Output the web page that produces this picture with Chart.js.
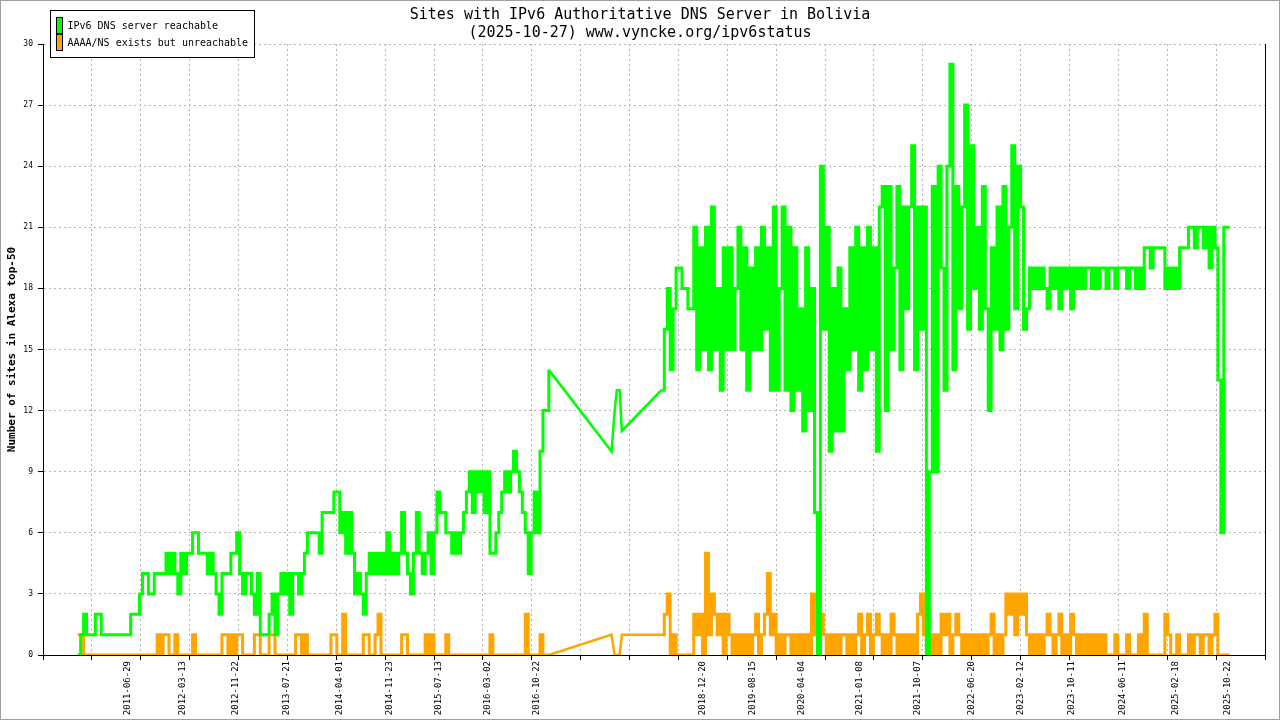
<!DOCTYPE html>
<html>
<head>
<meta charset="utf-8">
<title>Sites with IPv6 Authoritative DNS Server in Bolivia</title>
<script src="https://cdn.jsdelivr.net/npm/chart.js"></script>
<style>
    html, body { margin: 0; padding: 0; background: #fff; }
    canvas { display: block; }
</style>
</head>
<body>
<canvas id="dnsChart" width="1280" height="720"></canvas>
<script>
// Werte, ein Wert alle 14 Tage
const STEP_DAYS = 14;

const titleLines = ['Sites with IPv6 Authoritative DNS Server in Bolivia', '(2025-10-27) www.vyncke.org/ipv6status'];
const yTitle = 'Number of sites in Alexa top-50';
const seriesNames = ['IPv6 DNS server reachable', 'AAAA/NS exists but unreachable'];

const tickLabels = ['2011-06-29', '2012-03-13', '2012-11-22', '2013-07-21', '2014-04-01', '2014-11-23',
    '2015-07-13', '2016-03-02', '2016-10-22', '2018-12-20', '2019-08-15', '2020-04-04', '2021-01-08',
    '2021-10-07', '2022-06-20', '2023-02-12', '2023-10-11', '2024-06-11', '2025-02-18', '2025-10-22'];

const axisStart = '2010-05-21';
const axisEnd = '2026-04-17';

// erster Abschnitt (2010-11 bis 2016-12)
const earlyStart = '2010-11-02';
const greenEarly = [
    0, 1, 2, 1, 1, 1, 2, 2, 1, 1,
    1, 1, 1, 1, 1, 1, 1, 1, 2, 2,
    2, 3, 4, 4, 3, 3, 4, 4, 4, 4,
    5, 4, 5, 4, 3, 5, 4, 5, 5, 6,
    6, 5, 5, 5, 4, 5, 4, 3, 2, 4,
    4, 4, 5, 5, 6, 4, 3, 4, 4, 3,
    2, 4, 1, 1, 1, 2, 3, 1, 3, 4,
    3, 4, 2, 4, 4, 3, 4, 5, 6, 6,
    6, 6, 5, 7, 7, 7, 7, 8, 8, 6,
    7, 5, 7, 5, 3, 4, 3, 2, 4, 5,
    4, 5, 4, 5, 4, 6, 4, 5, 4, 5,
    7, 5, 4, 3, 5, 7, 5, 4, 5, 6,
    4, 6, 8, 7, 7, 6, 6, 5, 6, 5,
    6, 7, 8, 9, 7, 9, 8, 9, 7, 9,
    5, 5, 6, 7, 8, 9, 8, 9, 10, 9,
    8, 7, 6, 4, 6, 8, 6, 10, 12, 12,
    14
];
const orangeEarly = [
    1, 1, 0, 0, 0, 0, 0, 0, 0, 0,
    0, 0, 0, 0, 0, 0, 0, 0, 0, 0,
    0, 0, 0, 0, 0, 0, 0, 1, 0, 1,
    1, 0, 0, 1, 0, 0, 0, 0, 0, 1,
    0, 0, 0, 0, 0, 0, 0, 0, 0, 1,
    1, 0, 1, 0, 1, 1, 0, 0, 0, 0,
    1, 1, 0, 0, 0, 1, 1, 0, 0, 0,
    0, 0, 0, 0, 1, 1, 0, 1, 0, 0,
    0, 0, 0, 0, 0, 0, 1, 1, 0, 0,
    2, 0, 0, 0, 0, 0, 0, 1, 1, 0,
    0, 1, 2, 0, 0, 0, 0, 0, 0, 0,
    1, 1, 0, 0, 0, 0, 0, 0, 1, 0,
    1, 0, 0, 0, 0, 1, 0, 0, 0, 0,
    0, 0, 0, 0, 0, 0, 0, 0, 0, 0,
    1, 0, 0, 0, 0, 0, 0, 0, 0, 0,
    0, 0, 2, 0, 0, 0, 0, 1, 0, 0,
    0
];

// wenige Messungen in der Lücke 2017
const gapDates = ['2017-10-14', '2017-10-29', '2017-11-08', '2017-11-22', '2017-12-02'];
const gapGreen = [10, 12, 13, 13, 11];
const gapOrange = [1, 0, 0, 0, 1];

// zweiter Abschnitt (2018-06 bis 2025-10)
const lateStart = '2018-06-08';
const greenLate = [
    13, 16, 18, 14, 17, 19, 19, 18, 18, 17,
    17, 21, 14, 20, 15, 21, 14, 22, 15, 18,
    13, 20, 15, 20, 15, 18, 21, 15, 20, 13,
    19, 15, 20, 15, 21, 16, 20, 13, 22, 13,
    18, 22, 13, 21, 12, 20, 13, 17, 11, 20,
    12, 18, 7, 0, 24, 16, 21, 10, 18, 11,
    19, 11, 17, 14, 20, 15, 21, 13, 20, 14,
    21, 15, 20, 10, 22, 23, 12, 23, 15, 19,
    23, 14, 22, 17, 22, 25, 14, 22, 16, 22,
    0, 9, 23, 9, 24, 19, 13, 24, 29, 14,
    23, 17, 22, 27, 16, 25, 18, 21, 16, 23,
    17, 12, 20, 16, 22, 15, 23, 16, 21, 25,
    17, 24, 22, 16, 17, 19, 18, 19, 18, 19,
    18, 17, 19, 18, 19, 17, 19, 18, 19, 17,
    19, 18, 19, 18, 19, 19, 18, 19, 18, 19,
    19, 18, 19, 19, 18, 19, 19, 19, 18, 19,
    19, 18, 19, 18, 20, 20, 19, 20, 20, 20,
    20, 18, 19, 18, 19, 18, 20, 20, 20, 21,
    21, 20, 21, 21, 20, 21, 19, 21, 20, 13.5,
    6, 21, 21, 21
];
const orangeLate = [
    1, 2, 3, 0, 1, 0, 0, 0, 0, 0,
    0, 2, 1, 2, 0, 5, 1, 3, 2, 1,
    2, 0, 2, 1, 0, 1, 0, 1, 0, 1,
    0, 1, 2, 0, 1, 2, 4, 1, 2, 0,
    1, 0, 1, 1, 0, 1, 0, 1, 0, 1,
    0, 3, 1, 0, 2, 1, 0, 1, 0, 1,
    0, 1, 1, 0, 1, 0, 1, 2, 0, 1,
    2, 0, 1, 2, 1, 0, 1, 0, 2, 1,
    0, 1, 0, 1, 0, 1, 0, 2, 3, 1,
    0, 1, 0, 1, 0, 2, 1, 2, 0, 1,
    2, 1, 0, 1, 0, 1, 0, 1, 0, 1,
    0, 1, 2, 0, 1, 0, 1, 3, 2, 3,
    1, 3, 2, 3, 1, 0, 1, 0, 1, 0,
    1, 2, 1, 0, 1, 2, 0, 1, 0, 2,
    1, 0, 1, 0, 1, 0, 1, 0, 1, 0,
    1, 0, 0, 0, 1, 0, 0, 0, 1, 0,
    0, 0, 1, 0, 2, 0, 0, 0, 0, 0,
    0, 2, 1, 0, 0, 1, 0, 0, 0, 1,
    0, 1, 1, 0, 1, 1, 0, 1, 2, 0,
    0, 0, 0, 0
];

const GREEN = '#00ff00';
const ORANGE = '#ffa500';
const MONO = '"DejaVu Sans Mono", "Liberation Mono", monospace';

function dayNum(dateStr) {
    return Date.parse(dateStr + 'T00:00:00Z') / 86400000;
}

function seriesPoints(startDate, values) {
    const d0 = dayNum(startDate);
    return values.map((v, i) => ({ x: d0 + i * STEP_DAYS, y: v }));
}

function buildSeries(early, late) {
    // null-Punkt trennt die beiden Abschnitte
    return seriesPoints(earlyStart, early)
        .concat([{ x: dayNum(gapDates[0]), y: null }])
        .concat(seriesPoints(lateStart, late));
}

function buildGap(early, gap, late) {
    const first = seriesPoints(earlyStart, early);
    const gapPts = gapDates.map((d, i) => ({ x: dayNum(d), y: gap[i] }));
    return [first[first.length - 1]].concat(gapPts, [seriesPoints(lateStart, late)[0]]);
}

const xMin = dayNum(axisStart);
const xMax = dayNum(axisEnd);
const GRID_STEPS = 25;

const framePlugin = {
    id: 'frame',
    beforeDraw(chart) {
        const ctx = chart.ctx;
        ctx.save();
        ctx.fillStyle = '#fff';
        ctx.fillRect(0, 0, chart.width, chart.height);
        ctx.restore();
    },
    afterDraw(chart) {
        const ctx = chart.ctx;
        ctx.save();
        ctx.strokeStyle = '#a0a0a0';
        ctx.lineWidth = 1;
        ctx.strokeRect(0.5, 0.5, chart.width - 1, chart.height - 1);

        // Legende oben links im Plot
        const items = chart.data.datasets.filter(ds => ds.inLegend);
        const left = chart.chartArea.left + 7.5;
        const top = 10.5;
        ctx.fillStyle = '#fff';
        ctx.fillRect(left, top, 204, 47);
        ctx.strokeStyle = '#000';
        ctx.strokeRect(left, top, 204, 47);
        ctx.font = '10px ' + MONO;
        ctx.textBaseline = 'middle';
        items.forEach((ds, k) => {
            const cy = top + 15 + k * 17;
            ctx.fillStyle = ds.borderColor;
            ctx.fillRect(left + 6, cy - 8, 6, 16);
            ctx.strokeRect(left + 6, cy - 8, 6, 16);
            ctx.fillStyle = '#000';
            ctx.fillText(ds.label, left + 17, cy + 1);
        });
        ctx.restore();
    }
};

const ctx = document.getElementById('dnsChart').getContext('2d');
new Chart(ctx, {
    type: 'line',
    data: {
        datasets: [
            {
                label: seriesNames[0],
                inLegend: true,
                data: buildSeries(greenEarly, greenLate),
                borderColor: GREEN,
                borderWidth: 3,
                stepped: true,
                pointRadius: 0,
                spanGaps: false
            },
            {
                label: '',
                data: buildGap(greenEarly, gapGreen, greenLate),
                borderColor: GREEN,
                borderWidth: 2.5,
                pointRadius: 0
            },
            {
                label: seriesNames[1],
                inLegend: true,
                data: buildSeries(orangeEarly, orangeLate),
                borderColor: ORANGE,
                borderWidth: 3,
                stepped: true,
                pointRadius: 0,
                spanGaps: false
            },
            {
                label: '',
                data: buildGap(orangeEarly, gapOrange, orangeLate),
                borderColor: ORANGE,
                borderWidth: 2.5,
                pointRadius: 0
            }
        ]
    },
    options: {
        responsive: false,
        animation: false,
        layout: { padding: { top: 2, left: 0, right: 0, bottom: 0 } },
        plugins: {
            legend: { display: false },
            tooltip: { enabled: false },
            title: {
                display: true,
                text: titleLines,
                color: '#000',
                font: { family: MONO, size: 15, weight: 'normal', lineHeight: 1.2 },
                padding: { top: 4, bottom: 2 }
            }
        },
        scales: {
            x: {
                type: 'linear',
                position: 'bottom',
                min: xMin,
                max: xMax,
                afterBuildTicks: (scale) => {
                    const step = (xMax - xMin) / GRID_STEPS;
                    scale.ticks = [];
                    for (let k = 0; k <= GRID_STEPS; k++) {
                        scale.ticks.push({ value: xMin + k * step });
                    }
                },
                afterFit: (scale) => { scale.height = 5; },
                ticks: { display: false },
                grid: { color: '#b4b4b4', lineWidth: 1, tickLength: 5, tickColor: '#000', tickWidth: 1 },
                border: { display: true, color: '#000', width: 1, dash: [2, 3] }
            },
            xl: {
                type: 'linear',
                position: 'bottom',
                min: xMin,
                max: xMax,
                afterBuildTicks: (scale) => {
                    scale.ticks = tickLabels.map(d => ({ value: dayNum(d) }));
                },
                afterFit: (scale) => { scale.height = 60; },
                ticks: {
                    autoSkip: false,
                    minRotation: 90,
                    maxRotation: 90,
                    padding: 1,
                    color: '#000',
                    font: { family: MONO, size: 9 },
                    callback: (value, index) => tickLabels[index]
                },
                grid: { display: false, drawTicks: false },
                border: { display: false }
            },
            y: {
                min: 0,
                max: 30,
                afterFit: (scale) => { scale.width = 43; },
                ticks: {
                    stepSize: 3,
                    padding: 5,
                    color: '#000',
                    font: { family: MONO, size: 8 }
                },
                title: {
                    display: true,
                    text: yTitle,
                    color: '#000',
                    font: { family: MONO, size: 11, weight: 'bold' },
                    padding: { top: 6, bottom: 0 }
                },
                grid: { color: '#b4b4b4', lineWidth: 1, tickLength: 5, tickColor: '#000', tickWidth: 1 },
                border: { display: true, color: '#000', width: 1, dash: [2, 3] }
            },
            y2: {
                display: true,
                position: 'right',
                min: 0,
                max: 30,
                afterFit: (scale) => { scale.width = 15; },
                ticks: { display: false },
                grid: { display: false, drawTicks: false },
                border: { display: true, color: '#000', width: 1 }
            }
        }
    },
    plugins: [framePlugin]
});
</script>
</body>
</html>
